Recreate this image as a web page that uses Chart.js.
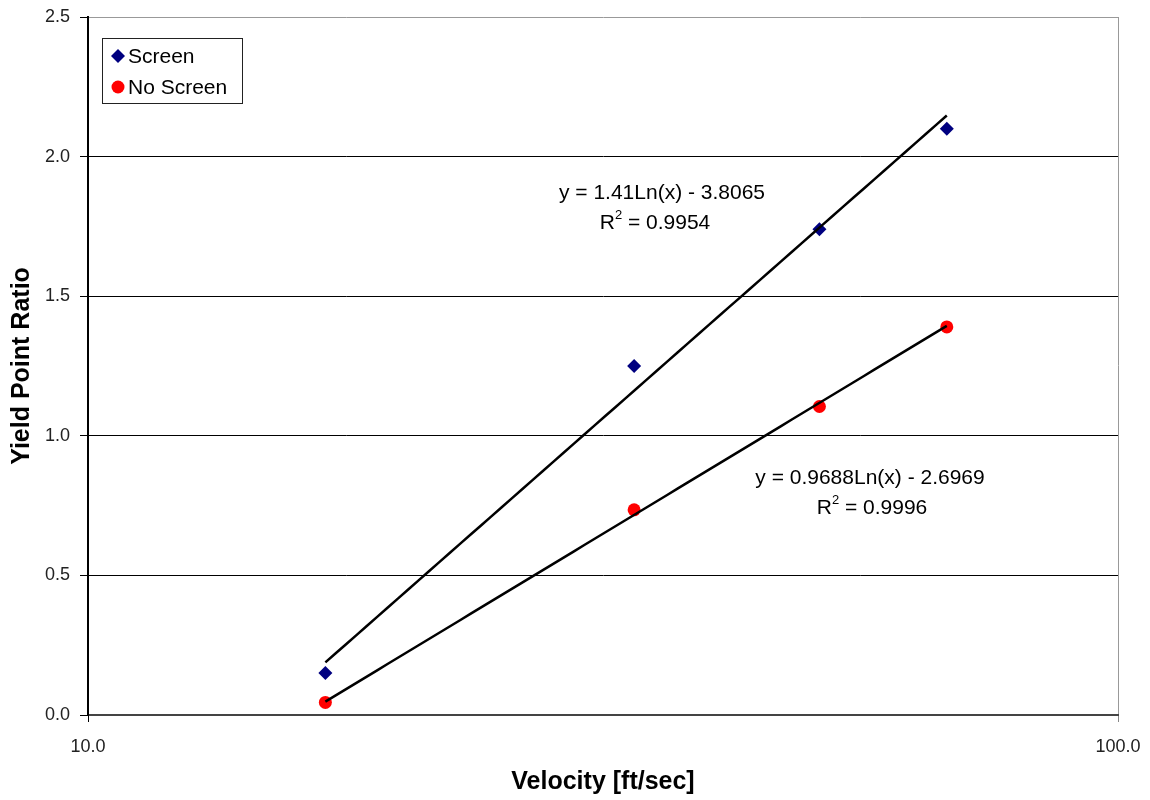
<!DOCTYPE html>
<html>
<head>
<meta charset="utf-8">
<script src="https://cdn.jsdelivr.net/npm/chart.js@4/dist/chart.umd.min.js"></script>
<style>
  html, body { margin: 0; padding: 0; background: #fff; }
  canvas { display: block; }
</style>
</head>
<body>
<canvas id="chart" width="1150" height="800"></canvas>
<script>
// Measured velocities [ft/sec] and yield point ratios
const velocity      = [17.0, 33.9, 51.3, 68.2];
const screenRatio   = [0.15, 1.25, 1.74, 2.10];
const noScreenRatio = [0.045, 0.735, 1.105, 1.39];

// Logarithmic trendlines: y = a*Ln(x) + b, with R^2
const screenFit   = [1.41, -3.8065];
const screenR2    = 0.9954;
const noScreenFit = [0.9688, -2.6969];
const noScreenR2  = 0.9996;

// Axis tick values
const xTicks = [10, 100];
const yTicks = [0, 0.5, 1.0, 1.5, 2.0, 2.5];

const FONT = '"Liberation Sans", Arial, sans-serif';

// Trendline curve over the measured velocity range
function trendPoints(fit) {
  const x0 = velocity[0], x1 = velocity[velocity.length - 1];
  const pts = [];
  const n = 60;
  for (let i = 0; i <= n; i++) {
    const x = Math.exp(Math.log(x0) + (Math.log(x1) - Math.log(x0)) * i / n);
    pts.push({ x: x, y: fit[0] * Math.log(x) + fit[1] });
  }
  return pts;
}

function eqText(fit) {
  const sign = fit[1] < 0 ? ' - ' : ' + ';
  return 'y = ' + fit[0] + 'Ln(x)' + sign + Math.abs(fit[1]);
}

// Draws "R² = value" centred on (cx, cy) with a raised small 2
function drawR2(ctx, r2, cx, cy) {
  const big = '21px ' + FONT, small = '13px ' + FONT;
  const rest = ' = ' + r2.toFixed(4);
  ctx.font = big; const wR = ctx.measureText('R').width; const wRest = ctx.measureText(rest).width;
  ctx.font = small; const w2 = ctx.measureText('2').width;
  let x = cx - (wR + w2 + wRest) / 2;
  ctx.textAlign = 'left'; ctx.textBaseline = 'middle';
  ctx.font = big; ctx.fillText('R', x, cy); x += wR;
  ctx.font = small; ctx.fillText('2', x, cy - 8); x += w2;
  ctx.font = big; ctx.fillText(rest, x, cy);
}

const annotations = {
  id: 'annotations',
  afterDatasetsDraw(chart) {
    const ctx = chart.ctx, a = chart.chartArea;
    ctx.save();
    ctx.fillStyle = '#000';
    ctx.textAlign = 'center'; ctx.textBaseline = 'middle';
    ctx.font = '21px ' + FONT;
    ctx.fillText(eqText(screenFit), a.left + 574, a.top + 176);
    drawR2(ctx, screenR2, a.left + 567, a.top + 206);
    ctx.font = '21px ' + FONT;
    ctx.textAlign = 'center';
    ctx.fillText(eqText(noScreenFit), a.left + 782, a.top + 461);
    drawR2(ctx, noScreenR2, a.left + 784, a.top + 491);

    // Legend box
    const bx = a.left + 14, by = a.top + 21, bw = 140, bh = 65;
    ctx.fillStyle = '#fff';
    ctx.fillRect(bx, by, bw, bh);
    ctx.strokeStyle = '#222'; ctx.lineWidth = 1;
    ctx.strokeRect(bx + 0.5, by + 0.5, bw, bh);
    const items = chart.data.datasets.filter(d => d.showInLegend);
    items.forEach((d, i) => {
      const y = by + 18 + i * 31;
      ctx.fillStyle = d.backgroundColor;
      Chart.helpers.drawPoint(ctx, { pointStyle: d.pointStyle, radius: d.pointRadius, rotation: 0, borderWidth: 0 }, bx + 16, y);
      ctx.fillStyle = '#000';
      ctx.font = '21px ' + FONT;
      ctx.textAlign = 'left'; ctx.textBaseline = 'middle';
      ctx.fillText(d.label, bx + 26, y + 1);
    });
    ctx.restore();
  }
};

new Chart(document.getElementById('chart'), {
  type: 'scatter',
  data: {
    datasets: [
      {
        label: 'Screen',
        data: velocity.map((v, i) => ({ x: v, y: screenRatio[i] })),
        pointStyle: 'rectRot', pointRadius: 7,
        backgroundColor: '#000080', borderColor: '#000080', borderWidth: 0,
        showInLegend: true, order: 2
      },
      {
        label: 'No Screen',
        data: velocity.map((v, i) => ({ x: v, y: noScreenRatio[i] })),
        pointStyle: 'circle', pointRadius: 6.5,
        backgroundColor: '#ff0000', borderColor: '#ff0000', borderWidth: 0,
        showInLegend: true, order: 2
      },
      {
        label: 'Log. (Screen)', type: 'line',
        data: trendPoints(screenFit),
        borderColor: '#000', borderWidth: 2.5, pointRadius: 0, fill: false, tension: 0, order: 1
      },
      {
        label: 'Log. (No Screen)', type: 'line',
        data: trendPoints(noScreenFit),
        borderColor: '#000', borderWidth: 2.5, pointRadius: 0, fill: false, tension: 0, order: 1
      }
    ]
  },
  options: {
    responsive: false,
    animation: false,
    devicePixelRatio: 1,
    layout: { padding: { top: 17, right: 32, left: 0, bottom: 0 } },
    plugins: { legend: { display: false }, tooltip: { enabled: false } },
    scales: {
      x: {
        type: 'logarithmic', min: 10, max: 100,
        afterBuildTicks: s => { s.ticks = xTicks.map(v => ({ value: v })); },
        afterFit: s => { s.height = 85; s.paddingLeft = 0; s.paddingRight = 0; },
        ticks: { callback: v => Number(v).toFixed(1), color: '#222', font: { family: FONT, size: 18 }, padding: 14, maxRotation: 0, autoSkip: false },
        grid: {
          color: c => (c.tick && c.tick.value === 100) ? '#999' : '#000',
          tickColor: c => (c.tick && c.tick.value === 100) ? '#888' : '#000',
          tickLength: 7, lineWidth: 1
        },
        border: { color: '#444', width: 2 },
        title: { display: true, text: 'Velocity [ft/sec]', color: '#000', font: { family: FONT, size: 25, weight: 'bold' }, padding: { top: 0, bottom: 3 } }
      },
      y: {
        min: 0, max: 2.5,
        afterBuildTicks: s => { s.ticks = yTicks.map(v => ({ value: v })); },
        afterFit: s => { s.width = 88; s.paddingTop = 0; s.paddingBottom = 0; },
        ticks: { callback: v => Number(v).toFixed(1), color: '#222', font: { family: FONT, size: 18 }, padding: 10 },
        grid: {
          color: c => (c.tick && c.tick.value === 2.5) ? '#999' : '#000',
          tickColor: '#000', tickLength: 8, lineWidth: 1
        },
        border: { color: '#000', width: 2 },
        title: { display: true, text: 'Yield Point Ratio', color: '#000', font: { family: FONT, size: 25, weight: 'bold' }, padding: { top: 7, bottom: 0 } }
      }
    }
  },
  plugins: [annotations]
});
</script>
</body>
</html>
